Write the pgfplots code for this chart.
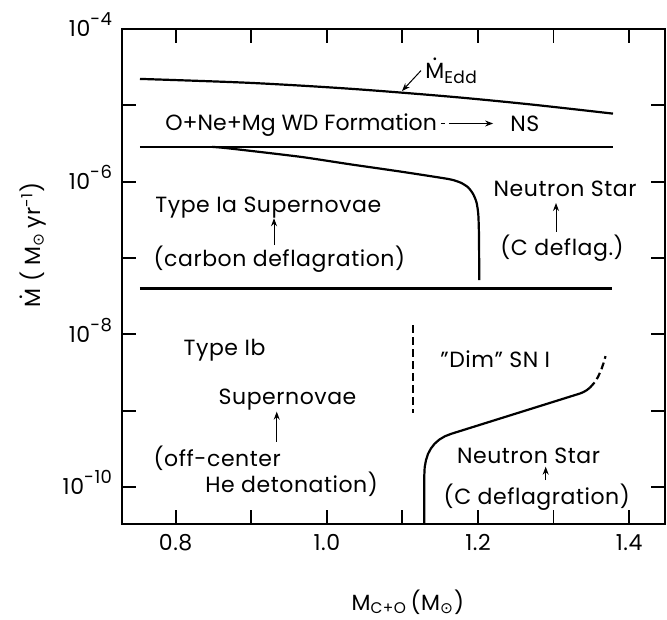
\documentclass[border=0pt]{standalone}
\usepackage{fontspec}
\setmainfont{Poppins}[LetterSpace=2.5]
\newfontfamily\dejavu{DejaVu Sans}
\usepackage{pgfplots}
\pgfplotsset{compat=1.18}
\usetikzlibrary{arrows.meta}

% M with an overdot (accretion rate)
\newcommand\Mdot{\leavevmode\ooalign{M\cr\hidewidth\raisebox{0.8em}{.}\hidewidth\cr}}
\newcommand\sun{{\dejavu\char"2299}}
\newcommand\tenpow[1]{10\raisebox{0.5em}{\fontsize{9}{9}\selectfont -#1}}

% Eddington accretion rate
\pgfplotstableread{
m     mdot
0.7529 2.22e-5
0.8984 1.97e-5
1.0307 1.65e-5
1.1630 1.30e-5
1.2688 1.03e-5
1.3786 7.79e-6
}\edd

% upper boundary of the carbon-deflagration (Type Ia) region
\pgfplotstableread{
m     mdot
0.8481 2.86e-6
0.8720 2.72e-6
0.9646 2.12e-6
1.0307 1.69e-6
1.0968 1.36e-6
1.1497 1.13e-6
1.1656 1.06e-6
1.1775 9.67e-7
1.1868 8.45e-7
1.1934 6.94e-7
1.1980 5.38e-7
1.2004 3.75e-7
1.2013 1.99e-7
1.2017 5.12e-8
}\iacurve

% low-rate boundary between Dim SN I and neutron star formation
\pgfplotstableread{
m     mdot
1.1290 3.28e-11
1.1290 1.436e-10
1.1295 1.818e-10
1.1312 2.247e-10
1.1339 2.718e-10
1.1378 3.210e-10
1.1428 3.707e-10
1.1488 4.181e-10
1.1560 4.612e-10
1.1643 4.970e-10
1.3349 1.680e-9
1.3396 1.756e-9
1.3439 1.860e-9
1.3480 2.001e-9
}\lowcurve

% uncertain continuation of that boundary
\pgfplotstableread{
m     mdot
1.3480 2.001e-9
1.3535 2.301e-9
1.3585 2.739e-9
1.3628 3.379e-9
1.3665 4.317e-9
1.3687 5.19e-9
}\lowdash

\begin{document}
\begin{tikzpicture}[font=\fontsize{11}{12}\selectfont]
\begin{axis}[
  at={(0,0)}, anchor=south west, scale only axis,
  width=271.5pt, height=247.5pt,
  xmin=0.7287, xmax=1.447,
  ymode=log, ymin=3.28e-11, ymax=1e-4,
  clip=false,
  axis line style={line width=1pt},
  tick align=inside, major tick length=7pt,
  every tick/.style={line width=0.9pt, black},
  xtick={0.8,0.9,1.0,1.1,1.2,1.3,1.4},
  xticklabels={0.8,,1.0,,1.2,,1.4},
  ytick={1e-10,1e-9,1e-8,1e-7,1e-6,1e-5,1e-4},
  yticklabels={\tenpow{10},,\tenpow{8},,\tenpow{6},,\tenpow{4}},
  yminorticks=false,
  ticklabel style={font=\fontsize{11}{12}\selectfont},
  xticklabel style={yshift=-1.75pt},
  yticklabel style={anchor=base east, yshift=-3.9pt, xshift=-1.3pt},
  xlabel={M\textsubscript{C+O}\,(M\textsubscript{\sun})},
  xlabel style={at={(axis description cs:0.527,-0.1576)}, anchor=center, inner sep=0pt},
  ylabel={\Mdot\ ( M\textsubscript{\sun}\,yr\textsuperscript{-1})},
  ylabel style={at={(axis description cs:-0.1634,0.5636)}, anchor=center, inner sep=0pt},
  every axis plot/.append style={black, line width=1.1pt, no marks, line join=round},
]
\addplot[smooth, tension=0.5] table[x=m, y=mdot] {\edd};
\addplot[] coordinates {(0.7529,2.86e-6) (1.3786,2.86e-6)};
\addplot[smooth, tension=0.4] table[x=m, y=mdot] {\iacurve};
\addplot[] coordinates {(0.7529,3.99e-8) (1.3772,3.99e-8)};
\addplot[dash pattern=on 4pt off 2pt] coordinates {(1.1144,1.32e-8) (1.1144,9.22e-10)};
\addplot[] table[x=m, y=mdot] {\lowcurve};
\addplot[dash pattern=on 3.5pt off 2pt] table[x=m, y=mdot] {\lowdash};

% region labels
\begin{scope}[every node/.style={inner sep=0pt, anchor=base west}]
\node at (rel axis cs:0.0797,0.7949) {\addfontfeatures{LetterSpace=0}O+Ne+Mg WD Formation};
\node at (rel axis cs:0.7151,0.7939) {NS};
\node at (rel axis cs:0.5586,0.9004) {\Mdot\raisebox{-2.5pt}{\fontsize{8.5}{9}\selectfont Edd}};
\node at (rel axis cs:0.0613,0.6289) {Type Ia Supernovae};
\node at (rel axis cs:0.0582,0.5198) {(carbon deflagration)};
\node at (rel axis cs:0.6843,0.6612) {Neutron Star};
\node at (rel axis cs:0.6967,0.5434) {(C deflag.)};
\node at (rel axis cs:0.1134,0.3414) {Type Ib};
\node at (rel axis cs:0.1779,0.2424) {Supernovae};
\node at (rel axis cs:0.0582,0.1158) {(off-center};
\node at (rel axis cs:0.1534,0.0632) {He detonation)};
\node at (rel axis cs:0.5862,0.3166) {"Dim" SN I};
\node at (rel axis cs:0.6169,0.1226) {Neutron Star};
\node at (rel axis cs:0.5923,0.0384) {(C deflagration)};
\end{scope}

% arrows
\begin{scope}[line width=0.5pt, -{Stealth[length=4pt, width=3pt]}]
\draw[dash pattern=on 2pt off 2pt on 20pt off 0pt] (rel axis cs:0.5880,0.8091) -- (rel axis cs:0.6840,0.8091);
\draw (rel axis cs:0.5512,0.9160) -- (rel axis cs:0.5162,0.8747);
\draw (rel axis cs:0.2805,0.5636) -- (rel axis cs:0.2805,0.6176);
\draw (rel axis cs:0.7998,0.5905) -- (rel axis cs:0.7998,0.6485);
\draw (rel axis cs:0.2855,0.1663) -- (rel axis cs:0.2855,0.2269);
\draw (rel axis cs:0.7808,0.0889) -- (rel axis cs:0.7808,0.1158);
\end{scope}
\end{axis}
\pgfresetboundingbox
\path[use as bounding box] (-60.85pt,-47.5pt) rectangle (272.65pt,262pt);
\end{tikzpicture}
\end{document}
